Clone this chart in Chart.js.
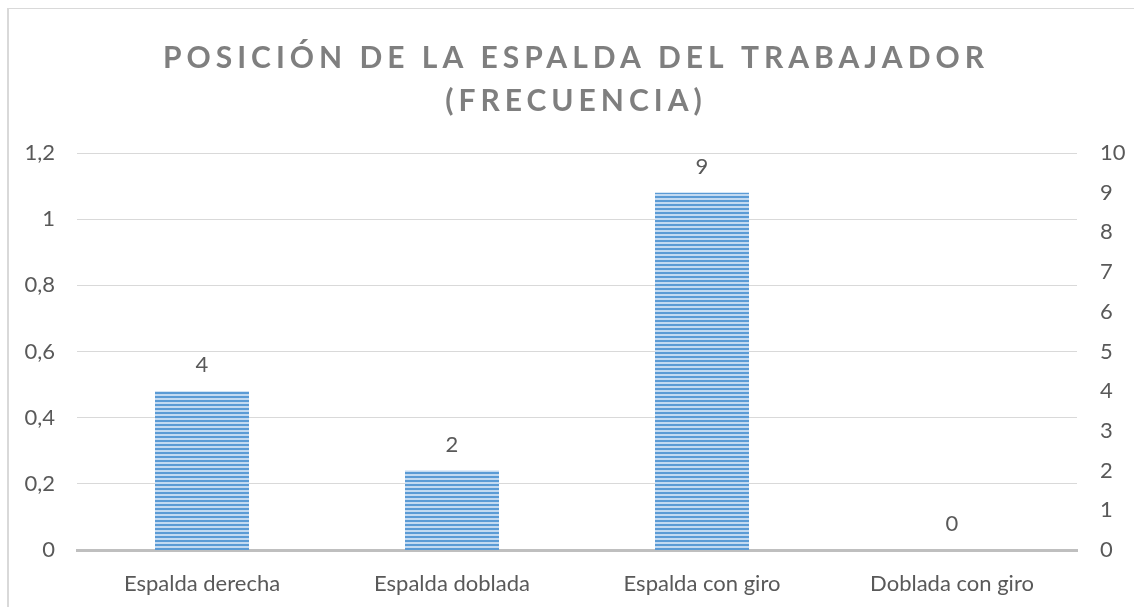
<!DOCTYPE html>
<html>
<head>
<meta charset="utf-8">
<script src="https://cdn.jsdelivr.net/npm/chart.js@4/dist/chart.umd.min.js"></script>
<style>
  html, body { margin: 0; padding: 0; background: #fff; overflow: hidden; }
  #frame {
    position: absolute; left: 7px; top: 8px; width: 1200px; height: 700px;
    border-left: 2px solid #d9d9d9; border-top: 1px solid #d9d9d9;
  }
  #wrap { position: absolute; left: 0; top: 0; width: 1134px; height: 607px; }
</style>
</head>
<body>
<div id="frame"></div>
<div id="wrap"><canvas id="chart"></canvas></div>
<script>
// data
var categories = ['Espalda derecha', 'Espalda doblada', 'Espalda con giro', 'Doblada con giro'];
var frecuencia = [4, 2, 9, 0];
var titleLines = ['POSICIÓN DE LA ESPALDA DEL TRABAJADOR', '(FRECUENCIA)'];

var FONT = 'Lato, "Open Sans", sans-serif';
var textColor = '#595959';

// striped fill for the bars
function stripes() {
    var c = document.createElement('canvas');
    c.width = 4; c.height = 4;
    var g = c.getContext('2d');
    g.fillStyle = '#c3daf1';
    g.fillRect(0, 0, 4, 4);
    g.fillStyle = '#5b9bd5';
    g.fillRect(0, 0, 4, 2);
    return g.createPattern(c, 'repeat');
}

// title with letter spacing
var titlePlugin = {
    id: 'spacedTitle',
    afterDraw: function (chart) {
        var ctx = chart.ctx;
        ctx.save();
        ctx.font = 'bold 30px ' + FONT;
        ctx.fillStyle = '#7f7f7f';
        ctx.textAlign = 'center';
        ctx.textBaseline = 'middle';
        ctx.letterSpacing = '5px';
        ctx.fillText(titleLines[0], 576, 58);
        ctx.fillText(titleLines[1], 576, 101);
        ctx.restore();
    }
};

// value labels above bars
var valuePlugin = {
    id: 'values',
    afterDatasetsDraw: function (chart) {
        var ctx = chart.ctx;
        var meta = chart.getDatasetMeta(0);
        ctx.save();
        ctx.font = '22px ' + FONT;
        ctx.fillStyle = textColor;
        ctx.textAlign = 'center';
        ctx.textBaseline = 'middle';
        meta.data.forEach(function (bar, i) {
            ctx.fillText(String(frecuencia[i]), bar.x, bar.y - 26);
        });
        ctx.restore();
    }
};

new Chart(document.getElementById('chart'), {
    type: 'bar',
    data: {
        labels: categories,
        datasets: [{
            data: frecuencia,
            yAxisID: 'y2',
            backgroundColor: stripes(),
            borderWidth: 0,
            categoryPercentage: 1,
            barPercentage: 0.376
        }]
    },
    options: {
        responsive: true,
        maintainAspectRatio: false,
        animation: false,
        layout: { padding: { top: 153, left: 0, right: 0, bottom: 0 } },
        plugins: {
            legend: { display: false },
            tooltip: { enabled: false },
            title: { display: false }
        },
        scales: {
            x: {
                grid: { display: false, drawTicks: false },
                border: { display: true, color: '#bfbfbf', width: 3 },
                ticks: { color: textColor, font: { family: FONT, size: 22 }, padding: 21 },
                afterFit: function (s) { s.height = 57; }
            },
            y: {
                position: 'left',
                min: 0, max: 1.2,
                grid: { color: '#d9d9d9', lineWidth: 1, drawTicks: false },
                border: { display: false },
                ticks: {
                    stepSize: 0.2,
                    padding: 22,
                    color: textColor,
                    font: { family: FONT, size: 22 },
                    callback: function (v) { return (Math.round(v * 10) / 10).toString().replace('.', ','); }
                },
                afterFit: function (s) { s.width = 77; }
            },
            y2: {
                position: 'right',
                min: 0, max: 10,
                grid: { display: false, drawTicks: false },
                border: { display: false },
                ticks: { stepSize: 1, padding: 23, color: textColor, font: { family: FONT, size: 22 } },
                afterFit: function (s) { s.width = 57; }
            }
        }
    },
    plugins: [titlePlugin, valuePlugin]
});
</script>
</body>
</html>
